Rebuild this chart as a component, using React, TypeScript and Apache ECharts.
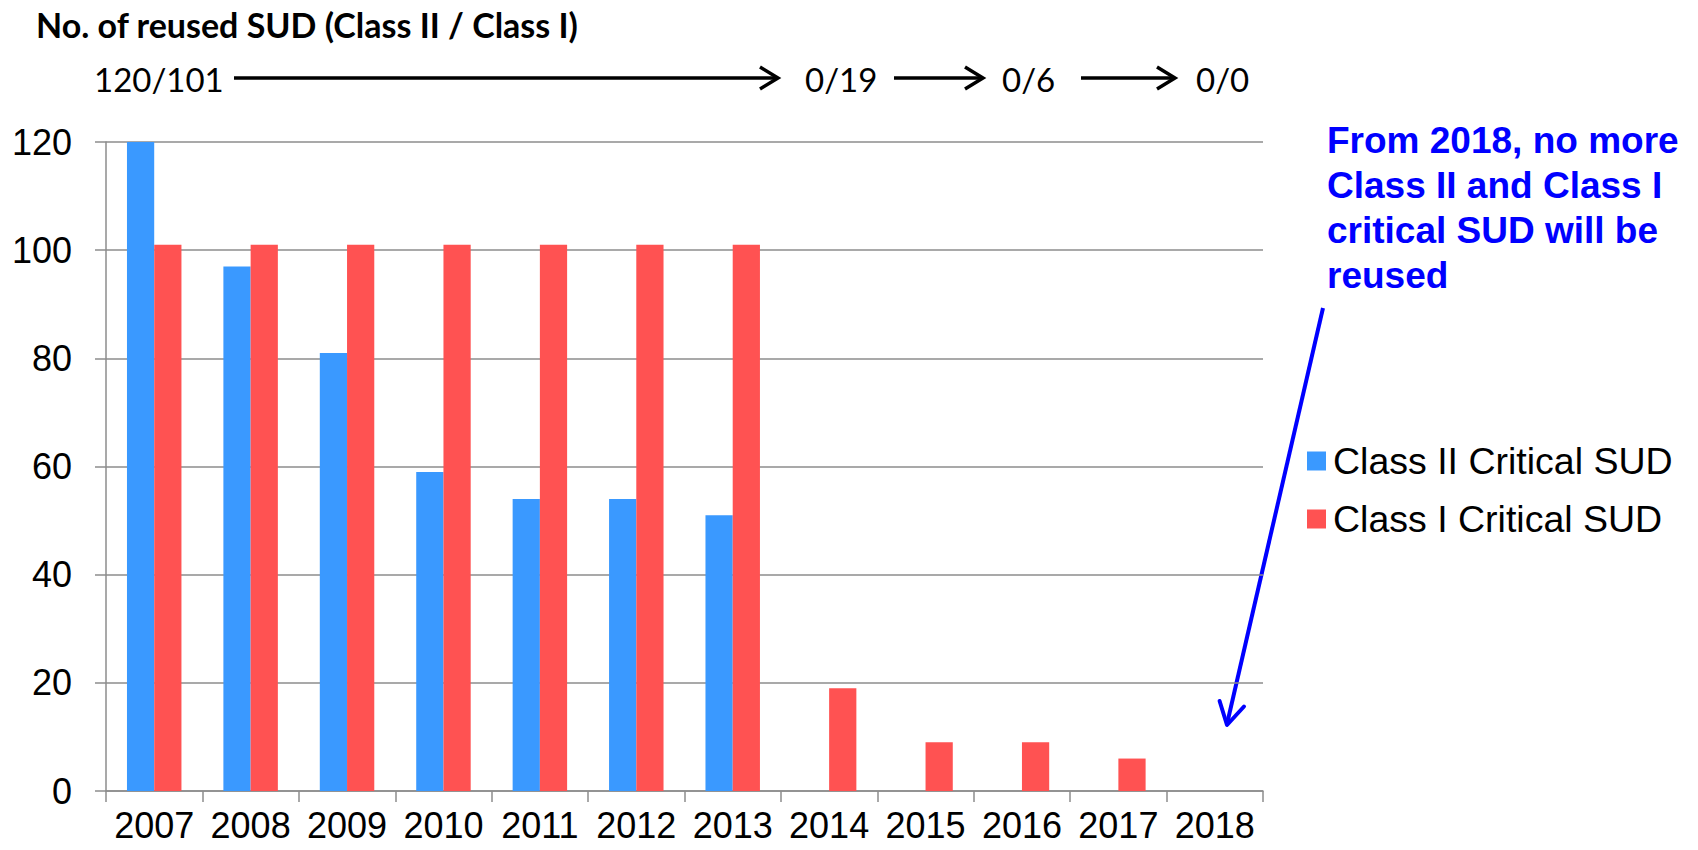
import React, { useEffect, useRef } from "react";
import * as echarts from "echarts";

const years = ["2007", "2008", "2009", "2010", "2011", "2012", "2013", "2014", "2015", "2016", "2017", "2018"];
const classII = [120, 97, 81, 59, 54, 54, 51, 0, 0, 0, 0, 0];
const classI = [101, 101, 101, 101, 101, 101, 101, 19, 9, 9, 6, 0];
const seriesNames = ["Class II Critical SUD", "Class I Critical SUD"];
const yTicks = { min: 0, max: 120, interval: 20 };
const flowLabels = ["120/101", "0/19", "0/6", "0/0"];
const titleText = "No. of reused SUD (Class II / Class I)";
const noteLines = ["From 2018, no more", "Class II and Class I", "critical SUD will be", "reused"];

const GRAY = "#8c8c8c";
const SANS = "'Liberation Sans', Arial, sans-serif";
const CAL = "Lato, 'Liberation Sans', sans-serif";

export default function App() {
  const ref = useRef<HTMLDivElement>(null);
  useEffect(() => {
    if (!ref.current) return;
    const chart = echarts.init(ref.current, null, { renderer: "svg" });
    const arrowY = 78;
    const arrows = [
      [234, 778],
      [894, 983],
      [1081, 1175],
    ];
    const flowX = [94, 805, 1002, 1196];
    const graphic: any[] = [];
    arrows.forEach(([a, b]) => {
      graphic.push({
        type: "line",
        shape: { x1: a, y1: arrowY, x2: b - 1, y2: arrowY },
        style: { stroke: "#000", lineWidth: 3.5 },
      });
      graphic.push({
        type: "polyline",
        shape: { points: [[b - 18, arrowY - 11], [b, arrowY], [b - 18, arrowY + 11]] },
        style: { stroke: "#000", lineWidth: 3.5, fill: "none" },
      });
    });
    flowLabels.forEach((t, i) => {
      graphic.push({
        type: "text",
        x: flowX[i],
        y: arrowY + 1,
        style: { text: t, fontSize: 33, fontFamily: CAL, fill: "#000", textAlign: "left", textVerticalAlign: "middle" },
      });
    });
    noteLines.forEach((t, i) => {
      graphic.push({
        type: "text",
        x: 1327,
        y: 140 + i * 45,
        style: { text: t, fontSize: 37, fontWeight: "bold", fontFamily: SANS, fill: "#0000FF", textAlign: "left", textVerticalAlign: "middle" },
      });
    });
    graphic.push({
      type: "line",
      shape: { x1: 1323, y1: 308, x2: 1227, y2: 724 },
      style: { stroke: "#0000FF", lineWidth: 4 },
    });
    graphic.push({
      type: "polyline",
      shape: { points: [[1219.6, 701], [1227, 725], [1244, 706.5]] },
      style: { stroke: "#0000FF", lineWidth: 4, fill: "none", lineCap: "round", lineJoin: "round" },
    });

    chart.setOption({
      animation: false,
      backgroundColor: "#fff",
      title: {
        text: titleText,
        left: 36,
        top: 6,
        padding: 0,
        textStyle: { fontSize: 34, fontWeight: "bold", fontFamily: CAL, color: "#000", lineHeight: 36 },
      },
      grid: { left: 106, right: 435, top: 142, bottom: 59, containLabel: false },
      legend: {
        orient: "vertical",
        left: 1307,
        top: 441,
        padding: 0,
        itemGap: 18,
        itemWidth: 19,
        itemHeight: 19,
        icon: "rect",
        textStyle: { fontSize: 37.5, fontFamily: SANS, color: "#000", lineHeight: 40, padding: [0, 0, 0, 2] },
        data: seriesNames,
      },
      xAxis: {
        type: "category",
        data: years,
        boundaryGap: true,
        axisLine: { show: true, lineStyle: { color: GRAY, width: 1.5 } },
        axisTick: { show: true, length: 11, lineStyle: { color: GRAY, width: 1.5 } },
        axisLabel: { fontSize: 36, fontFamily: SANS, color: "#000", margin: 19, lineHeight: 30, interval: 0 },
        splitLine: { show: false },
      },
      yAxis: {
        type: "value",
        min: yTicks.min,
        max: yTicks.max,
        interval: yTicks.interval,
        axisLine: { show: true, lineStyle: { color: GRAY, width: 1.5 } },
        axisTick: { show: true, length: 11, lineStyle: { color: GRAY, width: 1.5 } },
        axisLabel: { fontSize: 36, fontFamily: SANS, color: "#000", margin: 34 },
        splitLine: { show: true, lineStyle: { color: GRAY, width: 1.5 } },
      },
      series: [
        {
          name: seriesNames[0],
          type: "bar",
          data: classII,
          barGap: "0%",
          barCategoryGap: "43.5%",
          itemStyle: { color: "#3A99FF" },
        },
        {
          name: seriesNames[1],
          type: "bar",
          data: classI,
          barGap: "0%",
          barCategoryGap: "43.5%",
          itemStyle: { color: "#FF5252" },
        },
      ],
      graphic,
    });
    return () => chart.dispose();
  }, []);
  return <div ref={ref} style={{ position: "absolute", left: 0, top: 0, width: 1698, height: 850 }} />;
}
